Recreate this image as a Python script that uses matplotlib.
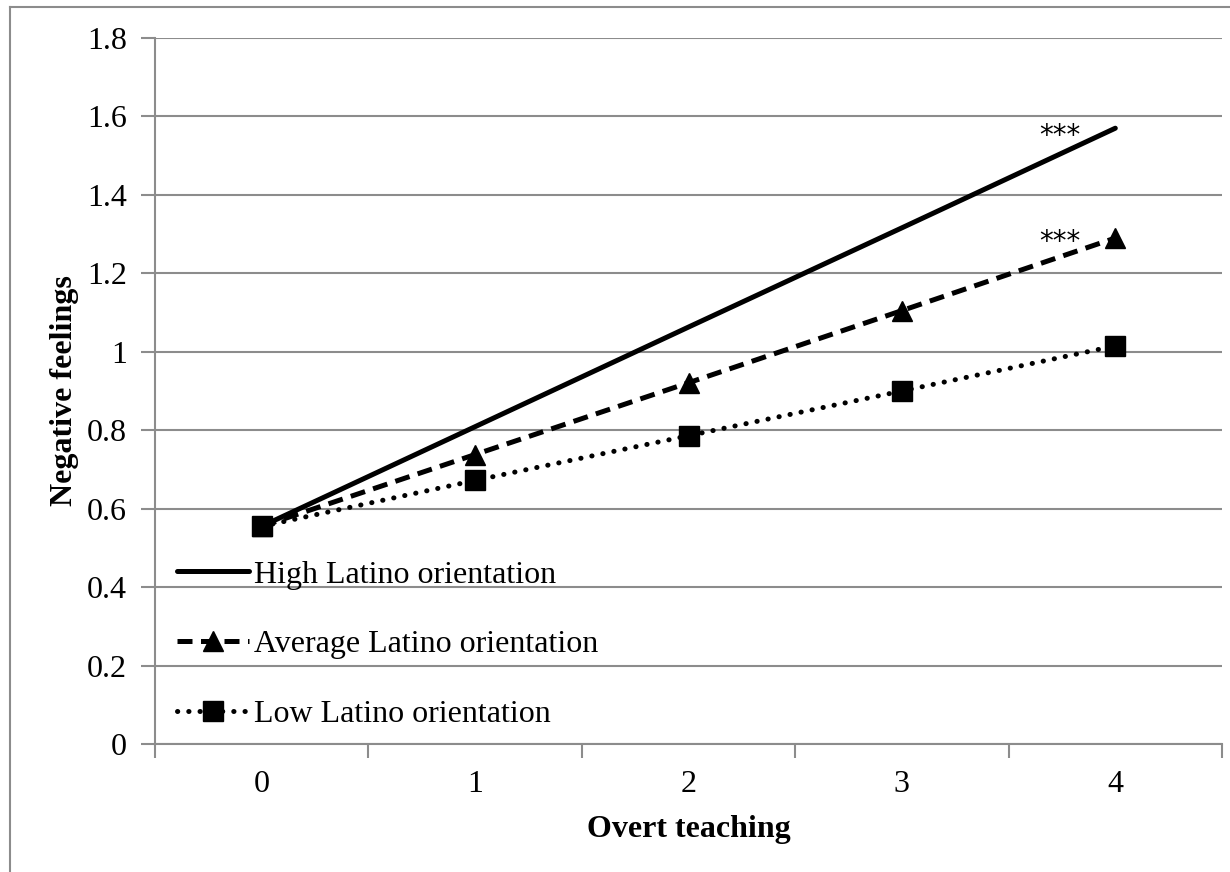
import matplotlib
matplotlib.use('Agg')
import matplotlib.pyplot as plt
from matplotlib.lines import Line2D

# data
overt_teaching = [0, 1, 2, 3, 4]
high_latino = [0.555, 0.809, 1.063, 1.316, 1.570]
average_latino = [0.555, 0.738, 0.921, 1.105, 1.290]
low_latino = [0.555, 0.672, 0.786, 0.900, 1.015]
series_names = ['High Latino orientation', 'Average Latino orientation', 'Low Latino orientation']
y_ticks = [0, 0.2, 0.4, 0.6, 0.8, 1.0, 1.2, 1.4, 1.6, 1.8]
y_tick_labels = ['0', '0.2', '0.4', '0.6', '0.8', '1', '1.2', '1.4', '1.6', '1.8']
sig_marks = [(3.74, 1.55, '***'), (3.74, 1.28, '***')]

plt.rcParams['font.family'] = ['Liberation Serif', 'DejaVu Serif']
grid_col = '#8c8c8c'
fs = 23

fig = plt.figure(figsize=(12.3, 8.72), dpi=100)
ax = fig.add_axes([155 / 1230, 1 - 744 / 872, (1222 - 155) / 1230, (744 - 38) / 872])

# outer chart-area border (left and top edges visible)
fig.add_artist(Line2D([10 / 1230, 10 / 1230], [0, 1 - 7 / 872], color=grid_col, lw=1.5))
fig.add_artist(Line2D([10 / 1230, 1], [1 - 7 / 872, 1 - 7 / 872], color=grid_col, lw=1.5))

lw = 3.6
ax.plot(overt_teaching, high_latino, color='black', lw=lw, solid_capstyle='round',
        label=series_names[0], zorder=3)
ax.plot(overt_teaching, average_latino, color='black', lw=lw, linestyle=(0, (3, 1.7)),
        marker='^', markersize=15, label=series_names[1], zorder=3)
ax.plot(overt_teaching, low_latino, color='black', lw=3.6, linestyle=(0, (0.05, 2.2)),
        dash_capstyle='round', marker='s', markersize=15, label=series_names[2], zorder=3)

for x, y, s in sig_marks:
    ax.text(x, y, s, ha='center', va='center', fontsize=20, family='DejaVu Sans')

ax.set_xlim(-0.5, 4.5)
ax.set_ylim(0, 1.8)
ax.set_yticks(y_ticks)
ax.set_yticklabels(y_tick_labels)
ax.set_xticks(overt_teaching)
ax.set_xticklabels([str(v) for v in overt_teaching])
ax.set_xticks([v - 0.5 for v in overt_teaching] + [4.5], minor=True)
ax.tick_params(axis='x', which='major', length=0, labelsize=fs, pad=18.5)
ax.tick_params(axis='x', which='minor', length=10, width=1.5, color=grid_col, direction='out')
ax.tick_params(axis='y', length=10, width=1.5, color=grid_col, labelsize=fs, pad=10)
ax.yaxis.grid(True, color=grid_col, lw=1.5)
ax.set_axisbelow(True)
for side in ['top', 'right']:
    ax.spines[side].set_visible(False)
for side in ['left', 'bottom']:
    ax.spines[side].set_color(grid_col)
    ax.spines[side].set_linewidth(1.5)

ax.set_xlabel('Overt teaching', fontsize=fs, fontweight='bold', labelpad=12)
ax.set_ylabel('Negative feelings', fontsize=fs, fontweight='bold', labelpad=6)

ax.legend(loc='upper left', bbox_to_anchor=(0.0, 0.292), frameon=False, fontsize=fs,
          handlelength=2.25, handletextpad=0.15, labelspacing=1.26, borderaxespad=0.3)

fig.savefig('out.png', dpi=100, facecolor='white')
